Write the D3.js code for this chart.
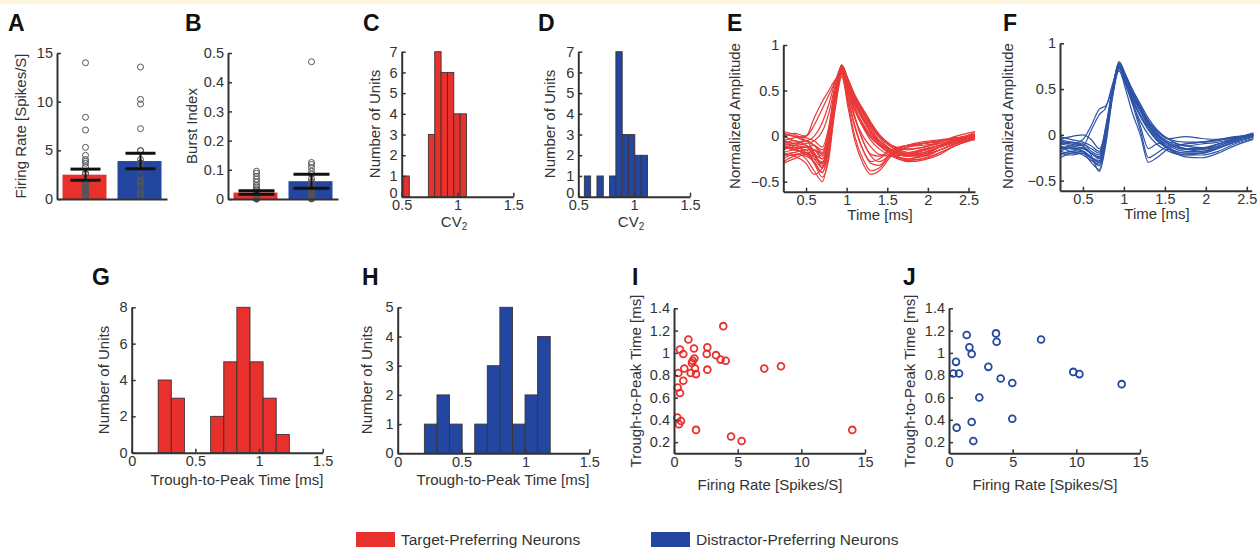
<!DOCTYPE html>
<html>
<head>
<meta charset="utf-8">
<script src="https://cdn.jsdelivr.net/npm/d3@7/dist/d3.min.js"></script>
<style>
body { margin: 0; background: #fff; }
svg { display: block; font-family: "Liberation Sans", Arial, Helvetica, sans-serif; }
</style>
</head>
<body>
<svg width="1260" height="550"></svg>
<script>
/* global d3 */
var groups = ["Target-Preferring Neurons", "Distractor-Preferring Neurons"];

// A, B: bar means +- sem
var rateMean = [2.5, 3.9],
    rateSem = [0.57, 0.8],
    burstMean = [0.022, 0.061],
    burstSem = [0.006, 0.024];

// I, J: one entry per unit
var targetRate = [3.87, 1.13, 0.47, 0.73, 1.57, 2.62, 2.57, 3.30, 3.66, 4.06, 1.47, 1.60, 1.41, 2.62, 0.81, 1.65,
                  1.31, 1.73, 0.34, 0.73, 0.29, 0.47, 0.26, 0.55, 0.39, 1.73, 4.48, 5.31, 7.09, 8.40, 14.0];
var targetTtp = [1.24, 1.12, 1.03, 0.99, 1.04, 1.05, 0.99, 0.98, 0.94, 0.93, 0.93, 0.95, 0.91, 0.85, 0.86, 0.86,
                 0.82, 0.81, 0.82, 0.75, 0.69, 0.64, 0.42, 0.39, 0.36, 0.31, 0.25, 0.21, 0.86, 0.88, 0.31];
var distractorRate = [1.39, 3.69, 3.74, 7.23, 1.60, 1.78, 0.55, 3.09, 0.34, 0.79, 9.76, 10.24, 4.06, 4.97, 13.56,
                      2.38, 4.97, 1.78, 0.60, 1.91];
var distractorTtp = [1.16, 1.175, 1.10, 1.12, 1.05, 0.99, 0.92, 0.875, 0.815, 0.815, 0.83, 0.81, 0.77, 0.73, 0.72,
                     0.60, 0.41, 0.38, 0.33, 0.21];

var targetBurst = [0.095, 0.088, 0.078, 0.068, 0.058, 0.048, 0.042, 0.035, 0.03, 0.025, 0.022, 0.02, 0.018, 0.015,
                   0.012, 0.01, 0.009, 0.008, 0.007, 0.006, 0.005, 0.004, 0.004, 0.003, 0.003, 0.002, 0.002, 0.001,
                   0.001, 0.0, 0.0];
var distractorBurst = [0.47, 0.125, 0.118, 0.108, 0.095, 0.085, 0.07, 0.06, 0.05, 0.04, 0.032, 0.025, 0.02, 0.015,
                       0.01, 0.008, 0.005, 0.003, 0.002, 0.0];

// C, D: CV2 histograms
var cvStart = [0.511, 0.554],
    cvBin = [0.057, 0.0565],
    cvTarget = [1, 0, 0, 0, 3, 7, 6, 6, 4, 4],
    cvDistractor = [1, 0, 1, 0, 1, 7, 3, 3, 2, 2];

// G, H: trough-to-peak histograms
var ttpStart = [0.208, 0.209],
    ttpBin = [0.103, 0.0985],
    ttpTarget = [4, 3, 0, 0, 2, 5, 8, 5, 3, 1],
    ttpDistractor = [1, 2, 1, 0, 1, 3, 5, 1, 2, 4];

// E, F: normalized waveforms
var waveTime = [0.22, 0.35, 0.5, 0.6, 0.7, 0.78, 0.86, 0.94, 1.02, 1.1, 1.2, 1.3, 1.4, 1.55, 1.75, 1.95, 2.15, 2.35, 2.58];
var targetWaves = [
  [0.02, 0.0, -0.02, -0.05, -0.12, 0.1, 0.55, 0.78, 0.6, 0.42, 0.25, 0.1, 0.0, -0.1, -0.15, -0.12, -0.08, -0.03, 0.02],
  [-0.05, -0.08, -0.1, -0.2, -0.3, -0.05, 0.45, 0.76, 0.55, 0.35, 0.18, 0.05, -0.05, -0.15, -0.2, -0.18, -0.12, -0.05, 0.0],
  [-0.15, -0.12, -0.18, -0.3, -0.45, -0.25, 0.35, 0.72, 0.45, 0.2, 0.0, -0.12, -0.2, -0.22, -0.2, -0.15, -0.1, -0.05, -0.02],
  [-0.1, -0.15, -0.12, -0.18, -0.35, -0.1, 0.4, 0.7, 0.35, 0.0, -0.25, -0.38, -0.35, -0.2, -0.12, -0.1, -0.08, -0.04, 0.0],
  [-0.2, -0.18, -0.25, -0.38, -0.5, -0.2, 0.3, 0.65, 0.3, -0.05, -0.3, -0.42, -0.38, -0.22, -0.12, -0.08, -0.06, -0.02, 0.02],
  [0.0, 0.03, 0.0, 0.12, 0.3, 0.45, 0.6, 0.75, 0.62, 0.45, 0.28, 0.12, 0.0, -0.12, -0.2, -0.18, -0.12, -0.06, 0.0],
  [-0.05, -0.02, 0.0, 0.2, 0.38, 0.5, 0.62, 0.7, 0.58, 0.42, 0.25, 0.1, -0.02, -0.15, -0.22, -0.2, -0.15, -0.08, -0.02],
  [-0.12, -0.1, -0.15, -0.15, -0.2, 0.05, 0.5, 0.78, 0.6, 0.4, 0.22, 0.08, -0.05, -0.18, -0.25, -0.22, -0.15, -0.08, -0.02],
  [-0.25, -0.2, -0.22, -0.28, -0.4, -0.15, 0.4, 0.74, 0.5, 0.3, 0.12, 0.0, -0.1, -0.2, -0.26, -0.25, -0.18, -0.1, -0.03],
  [-0.08, -0.1, -0.05, -0.1, -0.2, -0.02, 0.45, 0.72, 0.5, 0.22, -0.05, -0.2, -0.22, -0.15, -0.1, -0.08, -0.05, -0.02, 0.0],
  [-0.18, -0.15, -0.12, -0.22, -0.3, -0.1, 0.38, 0.68, 0.4, 0.12, -0.15, -0.3, -0.32, -0.18, -0.1, -0.06, -0.04, -0.02, 0.02],
  [-0.1, -0.14, -0.2, -0.25, -0.28, -0.08, 0.42, 0.76, 0.58, 0.38, 0.2, 0.05, -0.08, -0.2, -0.28, -0.26, -0.2, -0.1, -0.04],
  [-0.3, -0.25, -0.2, -0.22, -0.3, -0.05, 0.45, 0.78, 0.62, 0.45, 0.3, 0.15, 0.02, -0.1, -0.18, -0.2, -0.15, -0.08, -0.02],
  [0.05, 0.02, -0.05, -0.1, -0.15, 0.0, 0.48, 0.75, 0.55, 0.32, 0.12, -0.02, -0.1, -0.18, -0.2, -0.15, -0.1, -0.05, 0.02],
  [-0.12, -0.15, -0.18, -0.2, -0.25, -0.02, 0.5, 0.77, 0.58, 0.38, 0.2, 0.05, -0.06, -0.16, -0.22, -0.2, -0.12, -0.06, 0.0],
  [-0.2, -0.22, -0.3, -0.42, -0.35, -0.05, 0.42, 0.7, 0.45, 0.2, -0.05, -0.22, -0.28, -0.2, -0.12, -0.08, -0.05, -0.02, 0.0],
  [-0.08, -0.05, -0.1, -0.15, -0.22, 0.0, 0.5, 0.75, 0.6, 0.42, 0.26, 0.12, 0.0, -0.12, -0.2, -0.22, -0.15, -0.08, 0.0],
  [-0.15, -0.1, -0.12, -0.1, -0.18, 0.08, 0.52, 0.73, 0.52, 0.3, 0.1, -0.05, -0.14, -0.22, -0.27, -0.24, -0.18, -0.1, -0.02],
  [0.0, -0.05, -0.08, -0.05, 0.05, 0.25, 0.55, 0.7, 0.55, 0.38, 0.2, 0.05, -0.05, -0.15, -0.18, -0.14, -0.1, -0.05, 0.0],
  [-0.22, -0.18, -0.15, -0.3, -0.4, -0.12, 0.4, 0.68, 0.48, 0.28, 0.1, -0.02, -0.1, -0.18, -0.22, -0.18, -0.12, -0.06, 0.0],
  [-0.05, -0.12, -0.2, -0.15, -0.25, -0.05, 0.46, 0.74, 0.56, 0.36, 0.18, 0.04, -0.08, -0.2, -0.25, -0.2, -0.12, -0.04, 0.04],
  [-0.1, -0.08, -0.05, -0.18, -0.32, -0.12, 0.36, 0.66, 0.38, 0.1, -0.15, -0.28, -0.25, -0.15, -0.1, -0.08, -0.06, -0.03, 0.0],
  [-0.28, -0.22, -0.18, -0.25, -0.35, -0.1, 0.42, 0.72, 0.5, 0.3, 0.14, 0.02, -0.08, -0.16, -0.2, -0.16, -0.1, -0.04, 0.02],
  [0.03, 0.0, -0.05, 0.0, 0.15, 0.35, 0.6, 0.76, 0.6, 0.44, 0.28, 0.14, 0.02, -0.1, -0.14, -0.12, -0.06, 0.0, 0.05]
];
var distractorWaves = [
  [-0.05, -0.08, -0.1, -0.15, -0.2, 0.1, 0.5, 0.78, 0.65, 0.5, 0.32, 0.15, 0.02, -0.1, -0.15, -0.15, -0.1, -0.05, 0.0],
  [-0.12, -0.15, -0.18, -0.25, -0.3, 0.0, 0.45, 0.76, 0.62, 0.45, 0.28, 0.1, -0.02, -0.12, -0.18, -0.18, -0.12, -0.06, 0.0],
  [-0.18, -0.2, -0.2, -0.3, -0.38, -0.05, 0.42, 0.74, 0.58, 0.4, 0.22, 0.06, -0.05, -0.15, -0.2, -0.2, -0.15, -0.08, -0.02],
  [-0.1, -0.12, -0.15, -0.2, -0.25, 0.05, 0.48, 0.8, 0.66, 0.5, 0.34, 0.18, 0.06, -0.05, -0.12, -0.14, -0.1, -0.05, 0.02],
  [-0.2, -0.22, -0.2, -0.25, -0.28, 0.0, 0.46, 0.75, 0.55, 0.35, 0.15, 0.0, -0.1, -0.18, -0.22, -0.2, -0.14, -0.08, -0.02],
  [-0.08, -0.1, -0.05, 0.1, 0.28, 0.32, 0.5, 0.72, 0.6, 0.45, 0.28, 0.12, 0.0, -0.1, -0.15, -0.15, -0.1, -0.05, 0.0],
  [-0.15, -0.12, -0.1, -0.18, -0.22, 0.05, 0.48, 0.78, 0.6, 0.38, 0.1, -0.15, -0.1, -0.08, -0.12, -0.1, -0.08, -0.04, 0.0],
  [-0.05, -0.02, 0.0, -0.05, -0.15, 0.05, 0.5, 0.77, 0.6, 0.35, 0.05, -0.25, -0.2, -0.12, -0.1, -0.08, -0.06, -0.03, 0.0],
  [-0.22, -0.18, -0.22, -0.28, -0.32, -0.02, 0.44, 0.73, 0.58, 0.42, 0.26, 0.1, -0.02, -0.15, -0.22, -0.22, -0.18, -0.1, -0.04],
  [-0.12, -0.18, -0.15, -0.2, -0.26, 0.02, 0.47, 0.76, 0.62, 0.46, 0.3, 0.14, 0.02, -0.08, -0.15, -0.18, -0.14, -0.08, -0.02],
  [-0.02, -0.05, -0.08, -0.12, -0.18, 0.08, 0.5, 0.76, 0.64, 0.48, 0.3, 0.14, 0.04, -0.05, -0.08, -0.08, -0.06, -0.03, 0.0],
  [-0.25, -0.2, -0.18, -0.24, -0.3, 0.0, 0.45, 0.7, 0.55, 0.38, 0.2, 0.05, -0.06, -0.16, -0.24, -0.25, -0.2, -0.12, -0.05],
  [-0.1, -0.08, -0.12, -0.22, -0.4, -0.1, 0.4, 0.7, 0.5, 0.25, 0.0, -0.3, -0.25, -0.15, -0.1, -0.08, -0.05, -0.02, 0.0],
  [-0.15, -0.15, -0.14, -0.2, -0.24, 0.05, 0.48, 0.78, 0.62, 0.44, 0.26, 0.1, 0.0, -0.1, -0.16, -0.16, -0.12, -0.06, 0.0],
  [-0.06, -0.1, -0.12, 0.05, 0.22, 0.3, 0.55, 0.76, 0.64, 0.46, 0.3, 0.15, 0.05, -0.04, -0.02, -0.04, -0.05, -0.03, 0.02],
  [-0.18, -0.14, -0.18, -0.26, -0.34, -0.04, 0.44, 0.74, 0.58, 0.4, 0.22, 0.08, -0.04, -0.14, -0.2, -0.2, -0.14, -0.08, -0.02]
];

var red = "#e8302c", blue = "#2347a0", ink = "#333";
var colors = [red, blue];
var fmt = d3.format("~g");
var tickFont = 14.5, titleFont = 15;

var svg = d3.select("svg");
svg.append("rect").attr("width", 1260).attr("height", 4).attr("fill", "#fcf5dc");

function drawAxes(x, y, xTicks, yTicks) {
  var gy = svg.append("g")
      .attr("transform", "translate(" + x.range()[0] + ",0)")
      .call(d3.axisLeft(y).tickValues(yTicks).tickSizeInner(-4).tickSizeOuter(0).tickPadding(4).tickFormat(fmt));
  var gx = svg.append("g")
      .attr("transform", "translate(0," + y.range()[0] + ")")
      .call(d3.axisBottom(x).tickValues(xTicks).tickSizeInner(-4).tickSizeOuter(0).tickPadding(3).tickFormat(fmt));
  [gy, gx].forEach(function(a) {
    a.attr("font-family", null).attr("font-size", tickFont);
    a.select(".domain").attr("stroke", ink).attr("stroke-width", 2);
    a.selectAll(".tick line").attr("stroke", ink).attr("stroke-width", 1.5);
    a.selectAll(".tick text").attr("fill", ink);
  });
  return gy;
}

function yTitle(text, cx, cy) {
  svg.append("text")
      .attr("transform", "translate(" + cx + "," + cy + ") rotate(-90)")
      .attr("text-anchor", "middle")
      .attr("dy", "0.35em")
      .attr("font-size", titleFont)
      .attr("fill", ink)
      .text(text);
}

function xTitle(text, cx, cy) {
  return svg.append("text")
      .attr("x", cx).attr("y", cy)
      .attr("text-anchor", "middle")
      .attr("font-size", titleFont)
      .attr("fill", ink)
      .text(text);
}

function letter(t, x, y) {
  svg.append("text").attr("x", x).attr("y", y)
      .attr("font-size", 23).attr("font-weight", "bold").attr("fill", "#111")
      .text(t);
}

// ---- A / B bar panels
function barPanel(x0, x1, yMax, yTicks, means, sems, points, capW) {
  var x = d3.scaleBand().domain(groups).range([x0, x1]).paddingInner(0.2).paddingOuter(0.1),
      y = d3.scaleLinear().domain([0, yMax]).range([199, 53]);
  svg.append("g").selectAll("rect")
    .data(groups)
    .enter().append("rect")
      .attr("x", function(d) { return x(d); })
      .attr("width", x.bandwidth())
      .attr("y", function(d, i) { return y(means[i]); })
      .attr("height", function(d, i) { return y(0) - y(means[i]); })
      .attr("fill", function(d, i) { return colors[i]; });
  groups.forEach(function(gname, i) {
    var cx = x(gname) + x.bandwidth() / 2 + 1;
    svg.append("g").selectAll("circle")
      .data(points[i])
      .enter().append("circle")
        .attr("cx", cx)
        .attr("cy", function(d) { return y(d); })
        .attr("r", 3)
        .attr("fill", "none")
        .attr("stroke", "#555")
        .attr("stroke-width", 1);
    var eb = svg.append("g").attr("stroke", "#111");
    eb.append("line").attr("x1", cx).attr("x2", cx)
        .attr("y1", y(means[i] - sems[i])).attr("y2", y(means[i] + sems[i])).attr("stroke-width", 2);
    [means[i] - sems[i], means[i] + sems[i]].forEach(function(v) {
      eb.append("line").attr("x1", cx - capW / 2).attr("x2", cx + capW / 2)
          .attr("y1", y(v)).attr("y2", y(v)).attr("stroke-width", 3);
    });
  });
  drawAxes(x, y, [], yTicks);
}

barPanel(57, 167, 15, [0, 5, 10, 15], rateMean, rateSem, [targetRate, distractorRate], 30);
barPanel(228, 338, 0.5, [0, 0.1, 0.2, 0.3, 0.4, 0.5], burstMean, burstSem, [targetBurst, distractorBurst], 36);
letter("A", 8, 31);
letter("B", 185, 31);
yTitle("Firing Rate [Spikes/S]", 21, 126);
yTitle("Burst Index", 192, 126);

// ---- histograms
function histPanel(x, y, start, bin, counts, color, xTicks, yTicks) {
  var bins = counts.map(function(c, i) { return {c: c, i: i}; }).filter(function(d) { return d.c > 0; });
  svg.append("g").selectAll("rect")
    .data(bins)
    .enter().append("rect")
      .attr("x", function(d) { return x(start + d.i * bin); })
      .attr("width", function(d) { return x(start + (d.i + 1) * bin) - x(start + d.i * bin); })
      .attr("y", function(d) { return y(d.c); })
      .attr("height", function(d) { return y(0) - y(d.c); })
      .attr("fill", color)
      .attr("stroke", "#3b3333")
      .attr("stroke-width", 0.9);
  return drawAxes(x, y, xTicks, yTicks);
}

var cvTicks = [0, 1, 2, 3, 4, 5, 6, 7];
var cAxis = histPanel(d3.scaleLinear().domain([0.5, 1.5]).range([401.7, 513.3]),
          d3.scaleLinear().domain([0, 7]).range([196.7, 51.7]),
          cvStart[0], cvBin[0], cvTarget, red, [0.5, 1, 1.5], cvTicks);
var dAxis = histPanel(d3.scaleLinear().domain([0.5, 1.5]).range([578.3, 690]),
          d3.scaleLinear().domain([0, 7]).range([196.7, 51.7]),
          cvStart[1], cvBin[1], cvDistractor, blue, [0.5, 1, 1.5], cvTicks);
// the "0" sits right above the "0.5" of the x axis, lift it a little
[cAxis, dAxis].forEach(function(a) {
  a.selectAll(".tick text").filter(function(d) { return d === 0; }).attr("dy", "0.05em");
});
letter("C", 363, 31);
letter("D", 538, 31);
yTitle("Number of Units", 375, 124);
yTitle("Number of Units", 550, 124);
[[457, 227], [634, 227]].forEach(function(p) {
  var t = xTitle("CV", p[0] - 3, p[1]);
  t.append("tspan").attr("font-size", 10).attr("dy", 3).text("2");
});

histPanel(d3.scaleLinear().domain([0, 1.5]).range([131.7, 322.7]),
          d3.scaleLinear().domain([0, 8]).range([452.7, 307.3]),
          ttpStart[0], ttpBin[0], ttpTarget, red, [0, 0.5, 1, 1.5], [0, 2, 4, 6, 8]);
histPanel(d3.scaleLinear().domain([0, 1.5]).range([397.7, 589.3]),
          d3.scaleLinear().domain([0, 5]).range([453.3, 307.3]),
          ttpStart[1], ttpBin[1], ttpDistractor, blue, [0, 0.5, 1, 1.5], [0, 1, 2, 3, 4, 5]);
letter("G", 92, 285);
letter("H", 362, 285);
yTitle("Number of Units", 104, 380);
yTitle("Number of Units", 367, 380);
xTitle("Trough-to-Peak Time [ms]", 237, 485);
xTitle("Trough-to-Peak Time [ms]", 503, 485);

// ---- waveforms
function wavePanel(x, y, waves, color) {
  var line = d3.line()
      .x(function(d, i) { return x(waveTime[i]); })
      .y(function(d) { return y(d); })
      .curve(d3.curveMonotoneX);
  svg.append("g").selectAll("path")
    .data(waves)
    .enter().append("path")
      .attr("d", line)
      .attr("fill", "none")
      .attr("stroke", color)
      .attr("stroke-width", 1.2);
  drawAxes(x, y, [0.5, 1, 1.5, 2, 2.5], [-0.5, 0, 0.5, 1]);
}

wavePanel(d3.scaleLinear().domain([0.22, 2.58]).range([783.3, 975]),
          d3.scaleLinear().domain([-0.61, 1]).range([191.7, 45]), targetWaves, "#e83a3a");
wavePanel(d3.scaleLinear().domain([0.22, 2.56]).range([1060, 1251.7]),
          d3.scaleLinear().domain([-0.61, 1]).range([190.7, 43.3]), distractorWaves, "#2e53a6");
letter("E", 727, 31);
letter("F", 1003, 31);
yTitle("Normalized Amplitude", 735, 116);
yTitle("Normalized Amplitude", 1008, 116);
xTitle("Time [ms]", 880, 220);
xTitle("Time [ms]", 1157, 219);

// ---- scatter
function scatterPanel(x, y, xs, ys, color) {
  svg.append("g").selectAll("circle")
    .data(xs)
    .enter().append("circle")
      .attr("cx", function(d) { return x(d); })
      .attr("cy", function(d, i) { return y(ys[i]); })
      .attr("r", 3.4)
      .attr("fill", "none")
      .attr("stroke", color)
      .attr("stroke-width", 1.8);
  drawAxes(x, y, [0, 5, 10, 15], [0.2, 0.4, 0.6, 0.8, 1, 1.2, 1.4]);
}

scatterPanel(d3.scaleLinear().domain([0, 15]).range([674, 865]),
             d3.scaleLinear().domain([0.1, 1.4]).range([453.3, 308.3]), targetRate, targetTtp, red);
scatterPanel(d3.scaleLinear().domain([0, 15]).range([949, 1140]),
             d3.scaleLinear().domain([0.1, 1.4]).range([453.3, 308.3]), distractorRate, distractorTtp, blue);
letter("I", 632, 285);
letter("J", 903, 285);
yTitle("Trough-to-Peak Time [ms]", 636, 381);
yTitle("Trough-to-Peak Time [ms]", 910, 381);
xTitle("Firing Rate [Spikes/S]", 770, 490);
xTitle("Firing Rate [Spikes/S]", 1045, 490);

// ---- legend
var legend = svg.append("g").selectAll("g")
    .data(groups)
    .enter().append("g")
      .attr("transform", function(d, i) { return "translate(" + [356, 651][i] + ",532)"; });
legend.append("rect")
    .attr("width", 39).attr("height", 15)
    .attr("fill", function(d, i) { return colors[i]; });
legend.append("text")
    .attr("x", 45).attr("y", 12.5)
    .attr("font-size", 15.5)
    .attr("fill", ink)
    .text(function(d) { return d; });
</script>
</body>
</html>
